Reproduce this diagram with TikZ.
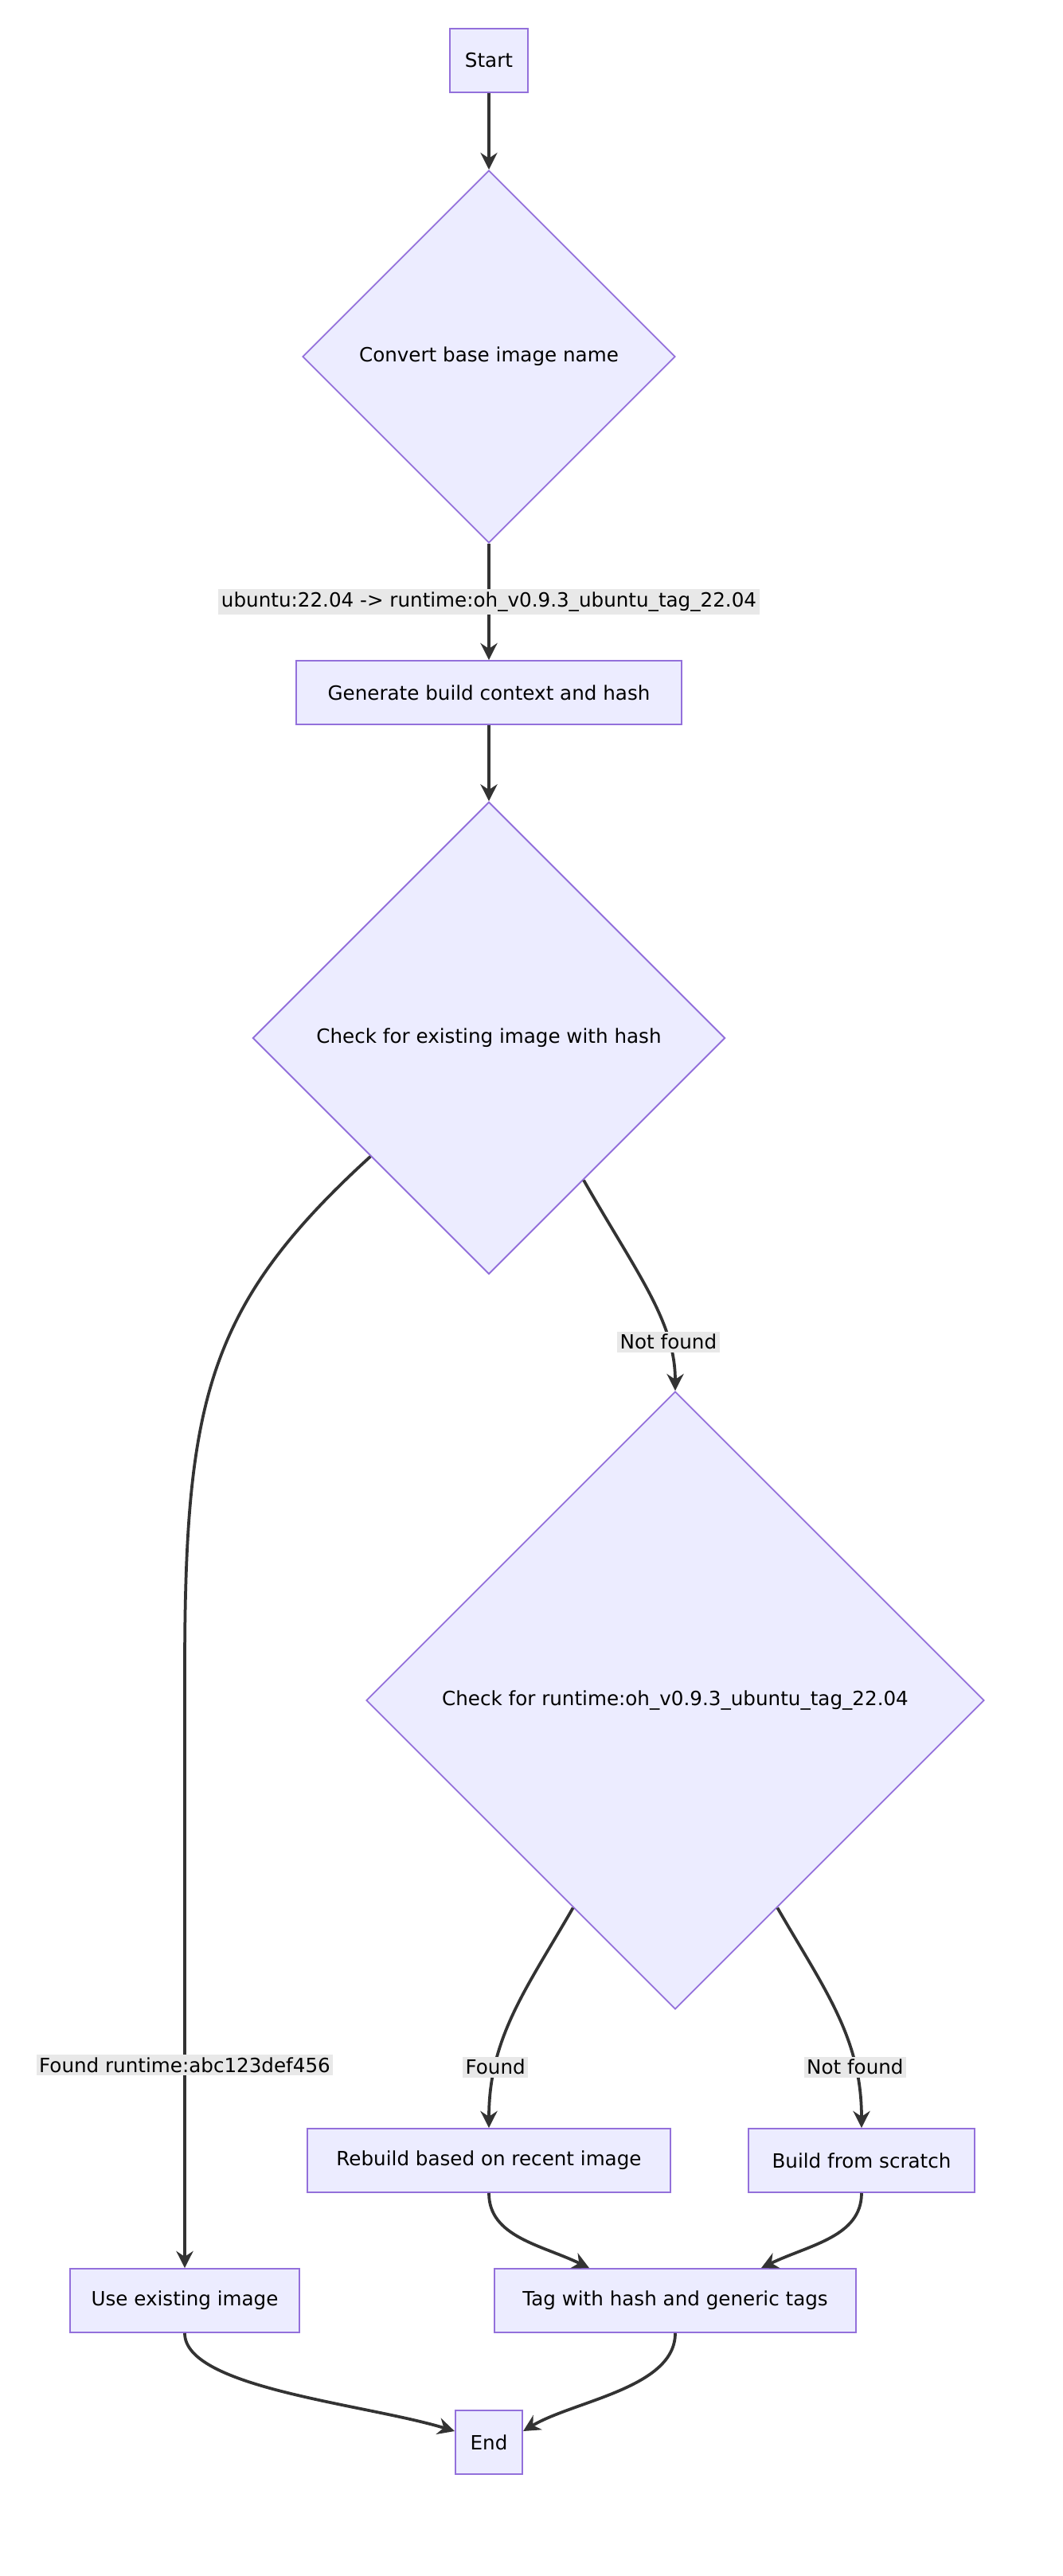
\documentclass[tikz,border=0pt]{standalone}
\usepackage{fontspec}
\setmainfont{DejaVu Sans}
\usetikzlibrary{shapes.geometric,calc,arrows.meta}
\definecolor{nfill}{RGB}{236,236,255}
\definecolor{nline}{RGB}{147,112,219}
\definecolor{eline}{RGB}{51,51,51}
\definecolor{lfill}{RGB}{232,232,232}

\tikzset{
  box/.style={draw=nline,fill=nfill,line width=0.8pt,minimum height=1.2cm,inner xsep=8pt,font=\fontsize{10.5}{12}\selectfont},
  decide/.style={diamond,draw=nline,fill=nfill,line width=0.8pt,inner sep=0pt,font=\fontsize{10.5}{12}\selectfont},
  flow/.style={draw=eline,line width=1.6pt,-{Stealth[length=9pt,width=9pt]}},
  elabel/.style={fill=lfill,inner sep=1.5pt,font=\fontsize{10.5}{12}\selectfont}
}

\begin{document}
\begin{tikzpicture}[x=0.03cm,y=-0.03cm]
      \useasboundingbox (0,0) rectangle (667,1618);
      % nodes
      \node[box,minimum width=1.44cm] (start) at (307,38) {Start};
      \node[decide,minimum width=7.02cm,minimum height=7.02cm] (conv) at (307,224) {Convert base image name};
      \node[box,minimum width=7.26cm] (gen) at (307,435) {Generate build context and hash};
      \node[decide,minimum width=8.9cm,minimum height=8.9cm] (chk) at (307,652) {Check for existing image with hash};
      \node[decide,minimum width=11.64cm,minimum height=11.64cm] (rt) at (424,1068) {Check for runtime:oh\_v0.9.3\_ubuntu\_tag\_22.04};
      \node[box,minimum width=4.32cm] (use) at (116,1445) {Use existing image};
      \node[box,minimum width=6.84cm] (rebuild) at (307,1357) {Rebuild based on recent image};
      \node[box,minimum width=4.26cm] (scratch) at (541,1357) {Build from scratch};
      \node[box,minimum width=6.81cm] (tag) at (424,1445) {Tag with hash and generic tags};
      \node[box,minimum width=1.2cm] (end) at (307,1534) {End};

      % connectors
      \draw[flow] (start) -- (conv);
      \draw[flow] (conv) -- node[elabel] {ubuntu:22.04 -> runtime:oh\_v0.9.3\_ubuntu\_tag\_22.04} (gen);
      \draw[flow] (gen) -- (chk);
      \draw[flow] ($(chk.south)!0.4!(chk.east)$) .. controls (400,800) and (424,830) .. node[elabel,pos=0.75] {Not found} (rt.north);
      \draw[flow] (chk.south west) .. controls (130,820) and (116,880) .. (116,1050) -- node[elabel,pos=0.66] {Found runtime:abc123def456} (use.north);
      \draw[flow] ($(rt.south)!0.33!(rt.west)$) .. controls (330,1250) and (307,1280) .. node[elabel,pos=0.75] {Found} (rebuild.north);
      \draw[flow] ($(rt.south)!0.33!(rt.east)$) .. controls (518,1250) and (541,1280) .. node[elabel,pos=0.75] {Not found} (scratch.north);
      \draw[flow] (rebuild.south) .. controls (307,1405) and (340,1410) .. ($(tag.north)+(-54,0)$);
      \draw[flow] (scratch.south) .. controls (541,1405) and (508,1410) .. ($(tag.north)+(54,0)$);
      \draw[flow] (use.south) .. controls (116,1500) and (230,1510) .. ($(end.west)+(0,-7)$);
      \draw[flow] (tag.south) .. controls (424,1500) and (360,1508) .. ($(end.east)+(0,-7)$);
\end{tikzpicture}
\end{document}
